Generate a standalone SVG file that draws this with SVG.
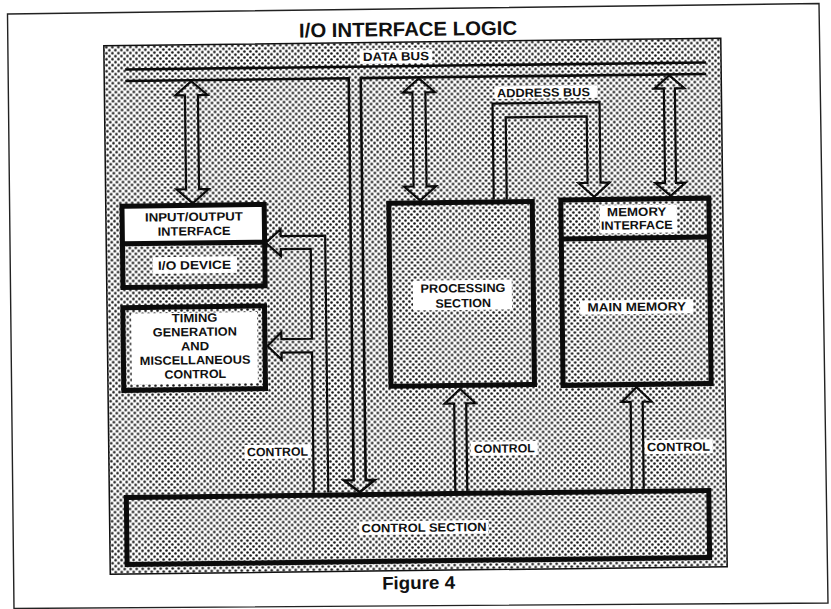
<svg xmlns="http://www.w3.org/2000/svg" width="831" height="609" viewBox="0 0 831 609">
  <defs>
    <!-- halftone screen used for the shaded panel -->
    <pattern id="dots" width="6" height="6" patternUnits="userSpaceOnUse">
      <rect width="6" height="6" fill="#fff"/>
      <circle cx="1.5" cy="1.5" r="1.3" fill="#111"/>
      <circle cx="4.5" cy="4.5" r="1.3" fill="#111"/>
    </pattern>
    <style>
      .frame { fill: none; stroke: #222; stroke-width: 1.4; }
      .panel { fill: url(#dots); stroke: #111; stroke-width: 1.5; }
      .box { fill: none; stroke: #0b0b0b; stroke-width: 5; }
      .bus { fill: none; stroke: #0b0b0b; stroke-width: 2.6; }
      .arrow { fill: none; stroke: #0b0b0b; stroke-width: 2.2; stroke-linejoin: miter; }
      .ko { fill: #fff; }
      .lbl { font-family: "Liberation Sans", Arial, sans-serif; font-weight: bold; font-size: 12px; fill: #111; text-anchor: middle; }
      .title { font-family: "Liberation Sans", Arial, sans-serif; font-weight: bold; fill: #111; text-anchor: middle; }
    </style>
  </defs>

  <rect width="831" height="609" fill="#fff"/>
  <polygon class="frame" points="7.5,14 819,3.5 828,603 14,608.5"/>

  <g transform="rotate(-0.7 415 305)">
    <text class="title" x="411.4" y="36" font-size="20" textLength="218" lengthAdjust="spacingAndGlyphs">I/O INTERFACE LOGIC</text>

    <!-- shaded background panel -->
    <rect class="panel" x="107" y="42" width="617" height="528.5"/>

    <!-- buses and signal arrows -->
    <g id="connectors">
      <!-- data bus -->
      <line class="bus" x1="128" y1="66" x2="709" y2="66" stroke-width="3"/>
      <polyline class="bus" points="128,77.5 351.5,77.5 351.5,479.5 342,479.5 357.5,491.5 372.5,479.5 363.5,479.5 363.5,77.5 709,77.5"/>
      <!-- data bus to I/O interface -->
      <polygon class="arrow" points="194,78.5 210,92.5 200.5,92.5 200.5,186.5 210,186.5 194,200.5 178,186.5 187.5,186.5 187.5,92.5 178,92.5"/>
      <!-- data bus to processing section -->
      <polygon class="arrow" points="421.5,78.5 437.5,92.5 428,92.5 428,186.5 437.5,186.5 421.5,200.5 405.5,186.5 415,186.5 415,92.5 405.5,92.5"/>
      <!-- data bus to memory interface -->
      <polygon class="arrow" points="672,78.5 687,91.5 677.5,91.5 677.5,186 687,186 672,199 657,186 666.5,186 666.5,91.5 657,91.5"/>
      <!-- address bus -->
      <polyline class="arrow" points="495,200.5 495,104.5 602,104.5 602,185 611,185 595.5,199 580,185 589,185 589,118.5 508,118.5 508,200.5"/>
      <!-- control to processing section -->
      <polyline class="arrow" points="453,491.5 453,404 443.5,404 459,389.5 474.5,404 465,404 465,491.5"/>
      <!-- control to main memory -->
      <polyline class="arrow" points="629.5,491.5 629.5,404.5 620.5,404.5 635.5,390 650.5,404.5 641.5,404.5 641.5,491.5"/>
      <!-- control to I/O interface and timing -->
      <polyline class="arrow" points="326,491.5 326,234.5 281.5,234.5 281.5,227.5 266.5,241 281.5,254.5 281.5,247.5 311.5,247.5 311.5,337.5 281,337.5 281,330.5 267,344.25 281,358 281,351 311.5,351 311.5,491.5"/>
    </g>

    <!-- bus labels -->
    <rect class="ko" x="363" y="49.5" width="72" height="13.5"/>
    <text class="lbl" x="399" y="60.3" font-size="11.5" textLength="66" lengthAdjust="spacingAndGlyphs">DATA BUS</text>
    <rect class="ko" x="497" y="87.5" width="103" height="12.5"/>
    <text class="lbl" x="546" y="98.3" font-size="11.5" textLength="93" lengthAdjust="spacingAndGlyphs">ADDRESS BUS</text>

    <g id="io-interface">
      <rect x="123.2" y="202.6" width="142.2" height="37.7" fill="#fff"/>
      <rect class="box" x="123.2" y="202.6" width="142.2" height="81.4"/>
      <line class="box" x1="123.2" y1="240.3" x2="265.4" y2="240.3" stroke-width="4"/>
      <text class="lbl" x="195" y="218.3" textLength="98" lengthAdjust="spacingAndGlyphs">INPUT/OUTPUT</text>
      <text class="lbl" x="195" y="232.6" textLength="72.7" lengthAdjust="spacingAndGlyphs">INTERFACE</text>
      <rect class="ko" x="153.5" y="254" width="84" height="16.6"/>
      <text class="lbl" x="195" y="266.6" textLength="73" lengthAdjust="spacingAndGlyphs">I/O DEVICE</text>
    </g>

    <g id="timing">
      <rect class="ko" x="131" y="310" width="126" height="71"/>
      <rect class="box" x="122.8" y="304.1" width="141.7" height="82.7"/>
      <text class="lbl" x="194.5" y="319.3" textLength="45.7" lengthAdjust="spacingAndGlyphs">TIMING</text>
      <text class="lbl" x="194.5" y="333.3" textLength="84" lengthAdjust="spacingAndGlyphs">GENERATION</text>
      <text class="lbl" x="194.5" y="347.6" textLength="28.3" lengthAdjust="spacingAndGlyphs">AND</text>
      <text class="lbl" x="194.5" y="361.6" textLength="110.7" lengthAdjust="spacingAndGlyphs">MISCELLANEOUS</text>
      <text class="lbl" x="194.5" y="375.6" textLength="61.7" lengthAdjust="spacingAndGlyphs">CONTROL</text>
    </g>

    <g id="processing">
      <rect class="box" x="390" y="203" width="143.5" height="183"/>
      <rect class="ko" x="413" y="280.6" width="99" height="30"/>
      <text class="lbl" x="463.2" y="292.9" textLength="85" lengthAdjust="spacingAndGlyphs">PROCESSING</text>
      <text class="lbl" x="463.2" y="307.9" textLength="55.7" lengthAdjust="spacingAndGlyphs">SECTION</text>
    </g>

    <g id="memory">
      <rect class="box" x="562.1" y="201.7" width="148" height="185.5"/>
      <line class="box" x1="562.1" y1="240.7" x2="710.1" y2="240.7"/>
      <rect class="ko" x="601" y="207.7" width="77" height="28"/>
      <text class="lbl" x="637.8" y="218.7" textLength="59.3" lengthAdjust="spacingAndGlyphs">MEMORY</text>
      <text class="lbl" x="637.8" y="232" textLength="71.6" lengthAdjust="spacingAndGlyphs">INTERFACE</text>
      <rect class="ko" x="580" y="302.7" width="113" height="14"/>
      <text class="lbl" x="636.7" y="313.7" textLength="98.7" lengthAdjust="spacingAndGlyphs">MAIN MEMORY</text>
    </g>

    <g id="control-section">
      <rect class="box" x="124" y="494" width="582.5" height="67"/>
      <rect class="ko" x="356.5" y="520.8" width="129" height="13.5"/>
      <text class="lbl" x="421.3" y="531.8" textLength="125" lengthAdjust="spacingAndGlyphs">CONTROL SECTION</text>
    </g>

    <!-- control signal labels -->
    <rect class="ko" x="243" y="443" width="66" height="14"/>
    <text class="lbl" x="275.7" y="454.3" textLength="61" lengthAdjust="spacingAndGlyphs">CONTROL</text>
    <rect class="ko" x="469" y="442.4" width="67" height="14"/>
    <text class="lbl" x="502.6" y="453.7" textLength="61" lengthAdjust="spacingAndGlyphs">CONTROL</text>
    <rect class="ko" x="643" y="443" width="68" height="14"/>
    <text class="lbl" x="676.8" y="454.2" textLength="63" lengthAdjust="spacingAndGlyphs">CONTROL</text>

    <text class="title" x="415.2" y="589" font-size="18" textLength="73" lengthAdjust="spacingAndGlyphs">Figure 4</text>
  </g>
</svg>
